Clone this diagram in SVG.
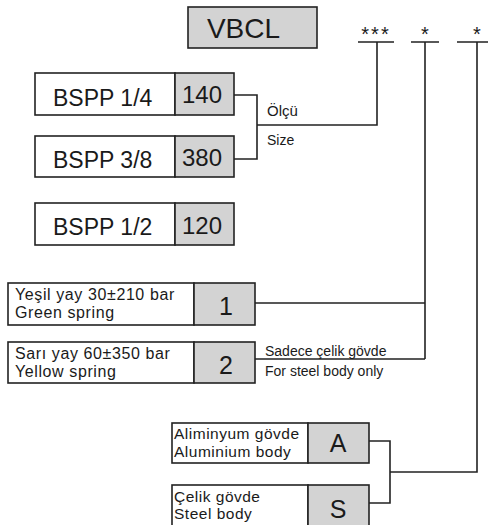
<svg xmlns="http://www.w3.org/2000/svg" width="488" height="525" viewBox="0 0 488 525">
<style>
.box{fill:#fff;stroke:#222;stroke-width:1.6}
.g{fill:#d3d3d3;stroke:#222;stroke-width:1.6}
.ln{fill:none;stroke:#222;stroke-width:1.6}
text{font-family:"Liberation Sans",Arial,sans-serif;fill:#1a1a1a}
.big{font-size:23px}
.num{font-size:24px;text-anchor:middle}
.sm{font-size:16px;letter-spacing:0.6px}
.md{font-size:15.5px;letter-spacing:0.5px}
.xs{font-size:14px}
.code{font-size:25px;text-anchor:middle}
.star{font-size:20px;text-anchor:middle}
</style>
<rect width="488" height="525" fill="#fff"/>
<g id="title">
<rect x="188" y="7" width="129" height="41" class="g" stroke-width="2.4"/>
<text x="243.5" y="38" font-size="28" text-anchor="middle">VBCL</text>
</g>
<g id="slots">
<text x="376" y="41" class="star" letter-spacing="2">***</text>
<text x="425" y="41" class="star">*</text>
<text x="477" y="41" class="star">*</text>
<path d="M358 42H394M411 42H439M457 42H490" class="ln"/>
</g>
<g id="size14">
<rect x="35" y="73" width="140" height="42" class="box"/>
<rect x="175" y="73" width="59" height="42" class="g"/>
<text x="53" y="106" class="big">BSPP 1/4</text>
<text x="202" y="103" class="num">140</text>
</g>
<g id="size38">
<rect x="35" y="136" width="140" height="41" class="box"/>
<rect x="175" y="136" width="59" height="41" class="g"/>
<text x="53" y="168" class="big">BSPP 3/8</text>
<text x="202" y="166" class="num">380</text>
</g>
<g id="size12">
<rect x="35" y="203" width="140" height="42" class="box"/>
<rect x="175" y="203" width="59" height="42" class="g"/>
<text x="53" y="235" class="big">BSPP 1/2</text>
<text x="202" y="234" class="num">120</text>
</g>
<g id="spring1">
<rect x="8" y="283" width="186" height="42" class="box"/>
<rect x="194" y="283" width="61" height="42" class="g"/>
<text x="15" y="300" class="sm">Yeşil yay 30±210 bar</text>
<text x="15" y="318" class="sm">Green spring</text>
<text x="226" y="315" class="code">1</text>
</g>
<g id="spring2">
<rect x="8" y="342" width="186" height="41" class="box"/>
<rect x="194" y="342" width="61" height="41" class="g"/>
<text x="15" y="359" class="sm">Sarı yay 60±350 bar</text>
<text x="15" y="377" class="sm">Yellow spring</text>
<text x="226" y="374" class="code">2</text>
</g>
<g id="bodyA">
<rect x="172" y="423" width="136" height="40" class="box"/>
<rect x="308" y="423" width="61" height="40" class="g"/>
<text x="174" y="439" class="md">Aliminyum gövde</text>
<text x="174" y="457" class="md">Aluminium body</text>
<text x="338" y="452" class="code" font-size="26">A</text>
</g>
<g id="bodyS">
<rect x="172" y="485" width="136" height="42" class="box"/>
<rect x="308" y="485" width="61" height="42" class="g"/>
<text x="174" y="502" class="md">Çelik gövde</text>
<text x="174" y="519" class="md">Steel body</text>
<text x="338" y="518" class="code" font-size="26">S</text>
</g>
<g id="connectors">
<path d="M234 95H257V159H234M257 125H377V42" class="ln"/>
<path d="M255 303H425M255 359H425M425 42V359" class="ln"/>
<path d="M369 441H390V503H369M390 472H477V42" class="ln"/>
<text x="267" y="116" font-size="15">Ölçü</text>
<text x="267" y="145" class="xs" fill="#333">Size</text>
<text x="265" y="356" class="xs">Sadece çelik gövde</text>
<text x="265" y="376" class="xs" fill="#333">For steel body only</text>
</g>
</svg>
